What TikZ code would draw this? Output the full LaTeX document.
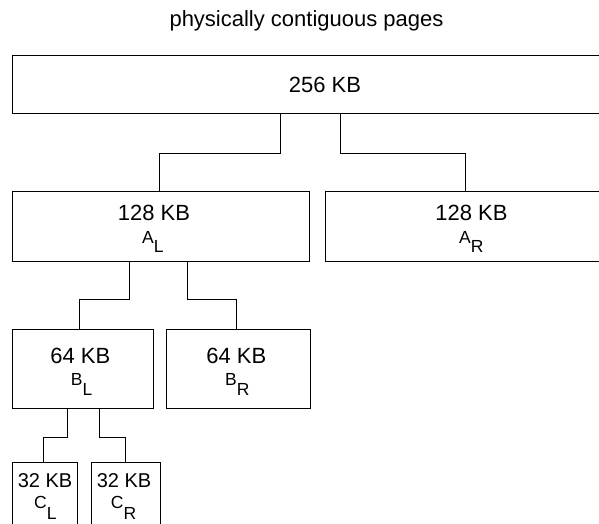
\documentclass[tikz,border=0pt]{standalone}
\usepackage{fontspec}
\setmainfont{Liberation Sans}
\usetikzlibrary{calc}
\tikzset{
  box/.style={draw, line width=0.8pt, inner sep=0pt, outer sep=0pt, anchor=north west},
  conn/.style={draw, line width=0.8pt},
  bigtxt/.style={font=\fontsize{22}{26}\selectfont, inner sep=0pt, anchor=base},
  midtxt/.style={font=\fontsize{20}{24}\selectfont, inner sep=0pt, anchor=base},
  subtxt/.style={font=\fontsize{17.5}{20}\selectfont, inner sep=0pt, anchor=base west},
}
\begin{document}
\begin{tikzpicture}[x=1pt,y=-1pt]
\path[use as bounding box] (0,0) rectangle (599,523);
\clip (0,0) rectangle (599,523);

% boxes
\node[box, minimum width=640pt, minimum height=58.3pt] (root) at (12.3,55) {};
\node[box, minimum width=297pt, minimum height=70.7pt] (AL) at (12.3,191) {};
\node[box, minimum width=279.8pt, minimum height=70.7pt] (AR) at (325.7,191) {};
\node[box, minimum width=141pt, minimum height=79pt] (BL) at (12.3,329.3) {};
\node[box, minimum width=143.3pt, minimum height=79pt] (BR) at (166.7,329.3) {};
\node[box, minimum width=65.4pt, minimum height=100pt] (CL) at (12.3,462.7) {};
\node[box, minimum width=69pt, minimum height=100pt] (CR) at (91,462.7) {};

% connectors
\draw[conn] (root.south west) ++(267.7,0) -- ++(0,40) -| ([xshift=-1.5pt]AL.north);
\draw[conn] (root.south west) ++(328.4,0) -- ++(0,40) -| (AR.north);
\draw[conn] (AL.south west) ++(116.7,0) -- ++(0,37.6) -| ([xshift=-3.5pt]BL.north);
\draw[conn] (AL.south west) ++(175.4,0) -- ++(0,37.6) -| ([xshift=-1.7pt]BR.north);
\draw[conn] (BL.south west) ++(55.4,0) -- ++(0,29.4) -| ([xshift=-1.7pt]CL.north);
\draw[conn] (BL.south west) ++(86.7,0) -- ++(0,29.4) -| ([xshift=-0.5pt]CR.north);

% texts
\node[bigtxt] (title) at (306.5,26.7) {physically contiguous pages};
\node[bigtxt] (t256) at (325,92.7) {256 KB};
\node[bigtxt] (tAL) at (154,220) {128 KB};
\node[subtxt] (sAL) at (142,243.3) {A\raisebox{-9pt}{L}};
\node[bigtxt] (tAR) at (471.5,220) {128 KB};
\node[subtxt] (sAR) at (459,243.3) {A\raisebox{-9pt}{R}};
\node[bigtxt] (tBL) at (80.4,363) {64 KB};
\node[subtxt] (sBL) at (70.7,385) {B\raisebox{-10pt}{L}};
\node[bigtxt] (tBR) at (236.4,363) {64 KB};
\node[subtxt] (sBR) at (225,385) {B\raisebox{-10pt}{R}};
\node[midtxt] (tCL) at (45,487) {32 KB};
\node[subtxt] (sCL) at (34,508) {C\raisebox{-11pt}{L}};
\node[midtxt] (tCR) at (124,487) {32 KB};
\node[subtxt] (sCR) at (110.7,508) {C\raisebox{-11pt}{R}};
\end{tikzpicture}
\end{document}
